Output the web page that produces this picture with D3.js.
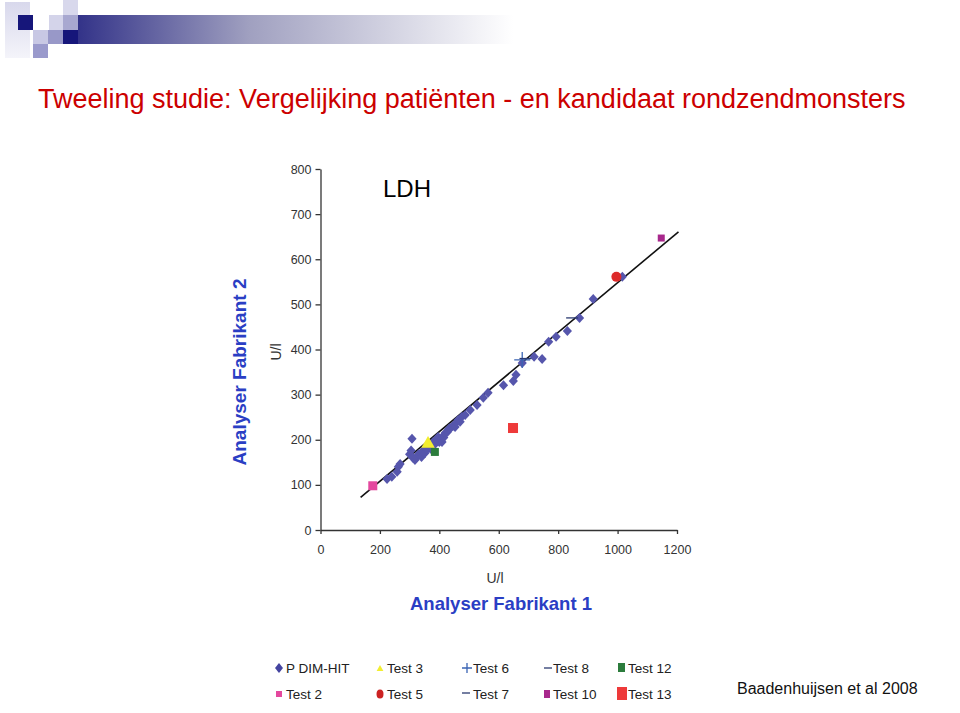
<!DOCTYPE html>
<html><head><meta charset="utf-8">
<script src="https://cdn.jsdelivr.net/npm/d3@7/dist/d3.min.js"></script>
<style>body{margin:0;background:#fff}svg{display:block}</style>
</head><body><svg id="c" width="960" height="713"></svg>
<script>
// ---- data ----
const xTicks = [0,200,400,600,800,1000,1200];
const yTicks = [0,100,200,300,400,500,600,700,800];
const dimHit = [[224,113],[240,118],[258,129],[262,140],[268,146],[308,202],[300,168],[305,176],[311,160],[318,155],[324,162],[330,168],[340,162],[346,176],[351,170],[358,178],[366,186],[370,180],[379,195],[385,190],[390,200],[396,206],[400,195],[409,195],[412,208],[415,205],[420,215],[428,218],[432,224],[436,226],[445,230],[453,228],[458,238],[463,244],[470,240],[476,251],[487,255],[504,266],[527,277],[548,293],[564,304],[616,321],[649,330],[658,344],[679,370],[719,384],[746,379],[768,417],[793,428],[831,441],[872,470],[918,512],[1016,561]];
const test2 = [[176,98]];
const test3 = [[362,191]];
const test5 = [[996,561]];
const test6 = [[679,377]];
const test7 = [[690,380]];
const test8 = [[847,470]];
const test10 = [[1147,647]];
const test12 = [[385,173]];
const test13 = [[648,226]];
const regression = {slope:0.55, intercept:-2, x0:135, x1:1205};
const legendRows = [["P DIM-HIT","Test 3","Test 6","Test 8","Test 12"],["Test 2","Test 5","Test 7","Test 10","Test 13"]];

const svg = d3.select("#c");
// ---- header decoration ----
const defs = svg.append("defs");
const g1 = defs.append("linearGradient").attr("id","bar");
g1.append("stop").attr("offset","0").attr("stop-color","#16167a");
g1.append("stop").attr("offset","0.45").attr("stop-color","#a0a0c0");
g1.append("stop").attr("offset","1").attr("stop-color","#ffffff");
const g2 = defs.append("linearGradient").attr("id","lite").attr("x1",0).attr("x2",0).attr("y1",0).attr("y2",1);
g2.append("stop").attr("offset","0").attr("stop-color","#d8d8ec");
g2.append("stop").attr("offset","1").attr("stop-color","#f4f4fa");
svg.append("rect").attr("x",33).attr("y",15).attr("width",480).attr("height",29).attr("fill","url(#bar)");
svg.append("rect").attr("x",5).attr("y",2).attr("width",25).attr("height",56).attr("fill","url(#lite)");
svg.append("rect").attr("x",33).attr("y",15).attr("width",30).attr("height",15).attr("fill","#fff");
svg.append("rect").attr("x",18).attr("y",15).attr("width",15).attr("height",15).attr("fill","#16167a");
svg.append("rect").attr("x",49).attr("y",15).attr("width",14).attr("height",15).attr("fill","#d4d4ea");
svg.append("rect").attr("x",63).attr("y",0).attr("width",15).attr("height",15).attr("fill","#d8d8ec");
svg.append("rect").attr("x",63).attr("y",15).attr("width",15).attr("height",15).attr("fill","#a8a8d0");
svg.append("rect").attr("x",33).attr("y",30).attr("width",15).attr("height",14).attr("fill","#c8c8e4");
svg.append("rect").attr("x",48).attr("y",30).attr("width",15).attr("height",14).attr("fill","#9898c8");
svg.append("rect").attr("x",63).attr("y",30).attr("width",15).attr("height",14).attr("fill","#16167a");
svg.append("rect").attr("x",33).attr("y",44).attr("width",15).attr("height",14).attr("fill","#9a9acc");

// ---- title ----
svg.append("text").attr("x",38).attr("y",108).attr("fill","#cc0000")
  .style("font-family","Liberation Sans, Arial, sans-serif").style("font-size","27px")
  .text("Tweeling studie: Vergelijking patiënten - en kandidaat rondzendmonsters");

// ---- plot ----
const x = d3.scaleLinear().domain([0,1200]).range([320.5,677]);
const y = d3.scaleLinear().domain([0,800]).range([530,169]);
const font = "Liberation Sans, Arial, sans-serif";

const ax = svg.append("g").attr("transform","translate(0,530)")
  .call(d3.axisBottom(x).tickValues(xTicks).tickFormat(d3.format("d")).tickSize(4).tickPadding(11).tickSizeOuter(0));
const ay = svg.append("g").attr("transform","translate(320.5,0)")
  .call(d3.axisLeft(y).tickValues(yTicks).tickFormat(d3.format("d")).tickSize(5).tickPadding(4).tickSizeOuter(0));
[ax,ay].forEach(a=>{
  a.selectAll("path,line").attr("stroke","#333").attr("stroke-width",1.3);
  a.selectAll("text").attr("fill","#333").style("font-family",font).style("font-size","12.5px");
});

svg.append("text").attr("x",407).attr("y",197).style("font-family",font).style("font-size","24px").attr("text-anchor","middle").text("LDH");
svg.append("text").attr("transform","translate(281,352) rotate(-90)").attr("text-anchor","middle")
  .style("font-family",font).style("font-size","14px").attr("fill","#333").text("U/l");
svg.append("text").attr("x",495).attr("y",583).attr("text-anchor","middle")
  .style("font-family",font).style("font-size","14px").attr("fill","#333").text("U/l");

// regression line
svg.append("line")
  .attr("x1",x(regression.x0)).attr("y1",y(regression.slope*regression.x0+regression.intercept))
  .attr("x2",x(regression.x1)).attr("y2",y(regression.slope*regression.x1+regression.intercept))
  .attr("stroke","#111").attr("stroke-width",1.6);

const diamondPath = "M0,-5L4.6,0L0,5L-4.6,0Z";
svg.append("g").selectAll("path").data(dimHit).join("path")
  .attr("transform",d=>`translate(${x(d[0])},${y(d[1])})`).attr("d",diamondPath).attr("fill","#5656ac");

function squares(data, color, s){
  svg.append("g").selectAll("rect").data(data).join("rect")
    .attr("x",d=>x(d[0])-s/2).attr("y",d=>y(d[1])-s/2).attr("width",s).attr("height",s).attr("fill",color);
}
squares(test2,"#e4489e",9);
squares(test10,"#a8288c",7);
squares(test12,"#2c7c3c",8);
squares(test13,"#ee3a3a",10);
svg.append("g").selectAll("path").data(test3).join("path")
  .attr("transform",d=>`translate(${x(d[0])},${y(d[1])})`)
  .attr("d",d3.symbol().type(d3.symbolTriangle).size(80)).attr("fill","#f2ee30");
svg.append("g").selectAll("circle").data(test5).join("circle")
  .attr("cx",d=>x(d[0])).attr("cy",d=>y(d[1])).attr("r",5).attr("fill","#dd2a2a");
svg.append("g").selectAll("path").data(test6).join("path")
  .attr("transform",d=>`translate(${x(d[0])},${y(d[1])})`)
  .attr("d","M-8,0H8M0,-8V8").attr("stroke","#3a64b4").attr("stroke-width",1.3);
svg.append("g").selectAll("path").data(test7.concat(test8)).join("path")
  .attr("transform",d=>`translate(${x(d[0])},${y(d[1])})`)
  .attr("d","M-6,0H6").attr("stroke","#2a3a70").attr("stroke-width",1.3);

// axis titles
svg.append("text").attr("transform","translate(246,372) rotate(-90)").attr("text-anchor","middle")
  .style("font-family",font).style("font-size","19px").style("font-weight","bold").attr("fill","#2a3ec4")
  .text("Analyser Fabrikant 2");
svg.append("text").attr("x",501).attr("y",610).attr("text-anchor","middle")
  .style("font-family",font).style("font-size","18.5px").style("font-weight","bold").attr("fill","#2a3ec4")
  .text("Analyser Fabrikant 1");

// ---- legend ----
const colX = [286,387,473,553,628];
const rowY = [673,699];
const lg = svg.append("g").style("font-family",font).style("font-size","13.5px").attr("fill","#222");
legendRows.forEach((row,ri)=>row.forEach((t,ci)=>{
  lg.append("text").attr("x",colX[ci]).attr("y",rowY[ri]).text(t);
}));
const my = r => rowY[r]-5;
lg.append("path").attr("transform",`translate(279,${my(0)})`).attr("d","M0,-5L4,0L0,5L-4,0Z").attr("fill","#4444a0");
lg.append("path").attr("transform",`translate(380,${my(0)+1})`).attr("d",d3.symbol().type(d3.symbolTriangle).size(20)).attr("fill","#f2ee30");
lg.append("path").attr("transform",`translate(467,${my(0)})`).attr("d","M-5,0H5M0,-5V5").attr("stroke","#3a64b4").attr("stroke-width",1.3);
lg.append("path").attr("transform",`translate(548,${my(0)})`).attr("d","M-4,0H4").attr("stroke","#2a3a70").attr("stroke-width",1.3);
lg.append("rect").attr("x",618).attr("y",my(0)-5).attr("width",7).attr("height",9).attr("fill","#2c7c3c");
lg.append("rect").attr("x",276).attr("y",my(1)-3).attr("width",6).attr("height",6).attr("fill","#e4489e");
lg.append("ellipse").attr("cx",380).attr("cy",my(1)).attr("rx",3.5).attr("ry",4.5).attr("fill","#cc2222");
lg.append("path").attr("transform",`translate(466,${my(1)-1})`).attr("d","M-4,0H4").attr("stroke","#2a3a70").attr("stroke-width",1.3);
lg.append("rect").attr("x",544).attr("y",my(1)-4).attr("width",6).attr("height",8).attr("fill","#a8288c");
lg.append("rect").attr("x",617).attr("y",my(1)-7).attr("width",10).attr("height",13).attr("fill","#ee3a3a");

svg.append("text").attr("x",737).attr("y",694).style("font-family",font).style("font-size","16px").attr("fill","#111")
  .text("Baadenhuijsen et al 2008");
</script></body></html>
